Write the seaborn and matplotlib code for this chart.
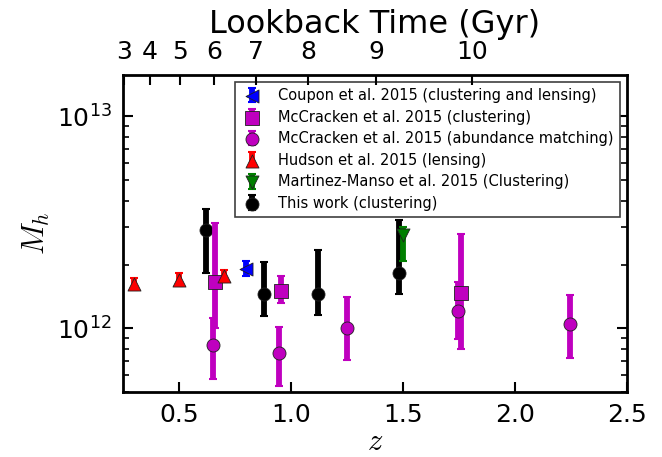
import matplotlib
matplotlib.use("Agg")
import matplotlib.pyplot as plt
import seaborn as sns
from matplotlib.legend_handler import HandlerTuple
from matplotlib.ticker import LogLocator, NullFormatter

# Halo mass measurements: redshift, mass, lower and upper bounds (M_sun)
this_z = [0.62, 0.88, 1.12, 1.48]
this_m = [2.92e12, 1.45e12, 1.45e12, 1.83e12]
this_lo = [1.83e12, 1.14e12, 1.16e12, 1.45e12]
this_hi = [3.66e12, 2.06e12, 2.34e12, 3.25e12]

coupon_z = [0.80]
coupon_m = [1.91e12]
coupon_lo = [1.77e12]
coupon_hi = [2.08e12]

mcc_cl_z = [0.66, 0.955, 1.76]
mcc_cl_m = [1.66e12, 1.50e12, 1.47e12]
mcc_cl_lo = [1.00e12, 1.32e12, 7.98e11]
mcc_cl_hi = [3.15e12, 1.77e12, 2.79e12]

mcc_am_z = [0.65, 0.945, 1.25, 1.745, 2.245]
mcc_am_m = [8.34e11, 7.64e11, 1.00e12, 1.21e12, 1.05e12]
mcc_am_lo = [5.75e11, 5.33e11, 7.08e11, 8.89e11, 7.24e11]
mcc_am_hi = [1.12e12, 1.01e12, 1.41e12, 1.66e12, 1.44e12]

hudson_z = [0.30, 0.50, 0.70]
hudson_m = [1.62e12, 1.69e12, 1.77e12]
hudson_lo = [1.52e12, 1.58e12, 1.66e12]
hudson_hi = [1.73e12, 1.82e12, 1.89e12]

mm_z = [1.50]
mm_m = [2.76e12]
mm_lo = [2.08e12]
mm_hi = [3.01e12]

# Lookback time (Gyr) and the redshift where each is reached
lookback_gyr = [3, 4, 5, 6, 7, 8, 9, 10]
lookback_z = [0.254, 0.37, 0.504, 0.656, 0.844, 1.076, 1.379, 1.81]

sns.set_theme(style="ticks")
plt.rcParams.update({
    "font.family": ["DejaVu Sans"],
    "mathtext.fontset": "cm",
    "text.color": "black",
    "axes.labelcolor": "black",
    "axes.linewidth": 2.0,
    "xtick.direction": "in",
    "ytick.direction": "in",
    "xtick.major.size": 7,
    "ytick.major.size": 7,
    "xtick.minor.size": 4.5,
    "ytick.minor.size": 4.5,
    "xtick.major.width": 1.5,
    "ytick.major.width": 1.5,
    "xtick.minor.width": 1.2,
    "ytick.minor.width": 1.2,
    "xtick.color": "black",
    "ytick.color": "black",
    "xtick.labelcolor": "black",
    "ytick.labelcolor": "black",
    "axes.edgecolor": "black",
})

fig = plt.figure(figsize=(6.62, 4.57), dpi=100)
ax = fig.add_axes([0.186, 0.142, 0.761, 0.694])
ax.set_yscale("log")

series = [
    ("This work (clustering)", this_z, this_m, this_lo, this_hi, "#000000", "o", 1),
    ("Coupon et al. 2015 (clustering and lensing)", coupon_z, coupon_m, coupon_lo, coupon_hi, "#0000ff", "<", 2),
    ("McCracken et al. 2015 (clustering)", mcc_cl_z, mcc_cl_m, mcc_cl_lo, mcc_cl_hi, "#bf00bf", "s", 2),
    ("McCracken et al. 2015 (abundance matching)", mcc_am_z, mcc_am_m, mcc_am_lo, mcc_am_hi, "#bf00bf", "o", 2),
    ("Hudson et al. 2015 (lensing)", hudson_z, hudson_m, hudson_lo, hudson_hi, "#ff0000", "^", 2),
    ("Martinez-Manso et al. 2015 (Clustering)", mm_z, mm_m, mm_lo, mm_hi, "#007f00", "v", 3),
]

handles = {}
for label, z, m, lo, hi, color, marker, layer in series:
    yerr = [[mi - l for mi, l in zip(m, lo)], [h - mi for mi, h in zip(m, hi)]]
    bars = ax.errorbar(z, m, yerr=yerr, fmt="none", ecolor=color, elinewidth=4.2,
                       capsize=3, capthick=1.5, zorder=2 * layer)
    pts = sns.scatterplot(x=z, y=m, ax=ax, marker=marker, s=88, color=color,
                          edgecolor="#202020", linewidth=0.6, zorder=2 * layer + 1,
                          legend=False)
    handles[label] = (bars, pts.collections[-1])

order = [
    "Coupon et al. 2015 (clustering and lensing)",
    "McCracken et al. 2015 (clustering)",
    "McCracken et al. 2015 (abundance matching)",
    "Hudson et al. 2015 (lensing)",
    "Martinez-Manso et al. 2015 (Clustering)",
    "This work (clustering)",
]
leg = ax.legend([handles[k] for k in order], order, loc="upper right",
                handler_map={tuple: HandlerTuple(ndivide=1)},
                fontsize=10.5, frameon=True, fancybox=False, framealpha=1,
                edgecolor="#404040", borderpad=0.4, labelspacing=0.45,
                handlelength=1.6, handletextpad=1.0, borderaxespad=0.5)
leg.get_frame().set_linewidth(1.2)
leg.set_zorder(10)

ax.set_xlim(0.25, 2.5)
ax.set_ylim(5e11, 1.57e13)
ax.set_xticks([0.5, 1.0, 1.5, 2.0, 2.5])
ax.set_xticklabels(["0.5", "1.0", "1.5", "2.0", "2.5"])
ax.yaxis.set_major_locator(LogLocator(base=10))
ax.yaxis.set_minor_locator(LogLocator(base=10, subs=range(2, 10)))
ax.yaxis.set_minor_formatter(NullFormatter())
ax.tick_params(axis="both", which="major", labelsize=18, pad=8)
ax.tick_params(axis="y", which="both", left=True, right=True)
ax.tick_params(axis="x", which="both", top=False, bottom=True)
ax.set_xlabel("$z$", fontsize=22, labelpad=0)
ax.set_ylabel("$M_h$", fontsize=22, labelpad=4)

# Lookback time axis along the top
top = ax.twiny()
top.set_xlim(ax.get_xlim())
top.set_xticks(lookback_z)
top.set_xticklabels([str(g) for g in lookback_gyr])
top.tick_params(axis="x", which="major", labelsize=18, pad=8, direction="in",
                length=7, width=1.5)
top.tick_params(axis="x", which="minor", top=False)
top.set_xlabel("Lookback Time (Gyr)", fontsize=23, labelpad=5)
for s in top.spines.values():
    s.set_visible(False)

fig.savefig("out.png", dpi=100)
